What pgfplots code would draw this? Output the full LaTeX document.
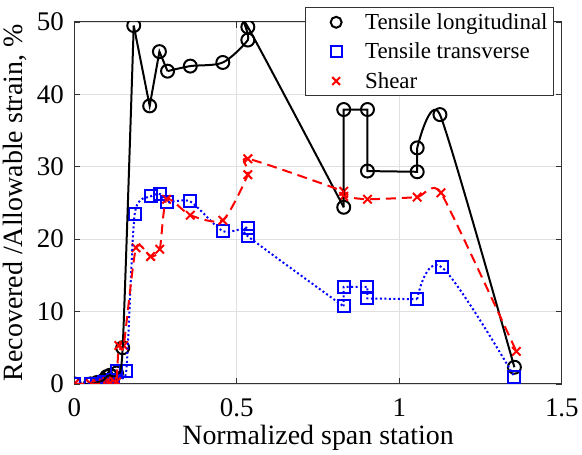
\documentclass[border=0pt]{standalone}
\usepackage{fontspec}
\setmainfont{Liberation Serif}
\usepackage{pgfplots}
\pgfplotsset{compat=1.18}

\begin{document}
\begin{tikzpicture}
\begin{axis}[
  name=ax,
  scale only axis, width=489pt, height=363pt,
  xmin=0, xmax=1.5, ymin=0, ymax=50,
  xtick={0,0.5,1,1.5}, ytick={0,10,20,30,40,50},
  xticklabel={\rmfamily\pgfmathprintnumber[assume math mode=true]{\tick}},
  yticklabel={\rmfamily\pgfmathprintnumber[assume math mode=true]{\tick}},
  tick align=inside, major tick length=6pt,
  grid=major, major grid style={black!12, line width=0.8pt},
  axis line style={line width=1pt, black!80},
  tick style={line width=0.8pt, black!80},
  ticklabel style={font=\rmfamily\fontsize{27}{30}\selectfont},
  xticklabel style={yshift=-11pt},
  yticklabel style={xshift=-7pt},
  label style={font=\rmfamily\fontsize{28}{32}\selectfont},
  xlabel={Normalized span station},
  ylabel={Recovered /Allowable strain, \%},
  ylabel style={yshift=3pt},
  xlabel style={yshift=-2pt},
  legend style={at={(rel axis cs:0.984,1.041)}, anchor=north east,
    font=\fontsize{23}{27}\selectfont, draw=black!80, line width=1pt,
    inner xsep=4pt, inner ysep=4pt, row sep=8pt},
  legend image code/.code={
    \path (0pt,0pt) (52pt,0pt);
    \draw[#1, mark size=5.5pt] plot coordinates {(26pt,0pt)};},
  legend cell align=left,
  clip marker paths=true,
]
% markers (legend entries)
\addplot[only marks, mark=o, mark size=6.5pt, line width=2pt, black] coordinates {
(0,0) (0.05,0) (0.07,0.2) (0.09,0.5) (0.10,1.0) (0.11,1.2) (0.12,1.0) (0.13,1.5)
(0.149,5.0) (0.183,49.5) (0.232,38.4) (0.262,45.9) (0.287,43.2) (0.357,43.9)
(0.457,44.4) (0.534,47.5) (0.534,49.3) (0.829,24.4) (0.829,37.9) (0.902,37.9)
(0.902,29.4) (1.055,29.3) (1.055,32.6) (1.125,37.2) (1.354,2.3)};
\addlegendentry{Tensile longitudinal}
\addplot[only marks, mark=square, mark size=6pt, line width=2pt, blue] coordinates {
(0,0) (0.05,0) (0.07,0) (0.09,0.2) (0.10,0.3) (0.12,0.5) (0.13,1.8) (0.16,1.8)
(0.186,23.5) (0.235,25.9) (0.265,26.2) (0.284,25.1) (0.357,25.2) (0.457,21.1)
(0.534,21.6) (0.534,20.4) (0.829,10.7) (0.829,13.4) (0.902,13.4) (0.902,11.8)
(1.055,11.7) (1.131,16.1) (1.354,1.0)};
\addlegendentry{Tensile transverse}
\addplot[only marks, mark=x, mark size=6pt, line width=2pt, red] coordinates {
(0,0) (0.05,0) (0.07,0) (0.09,0.1) (0.10,0.3) (0.11,0.2) (0.12,0.5) (0.13,0.3)
(0.137,5.3) (0.152,5.3) (0.19,18.8) (0.235,17.6) (0.263,18.6) (0.284,25.5)
(0.357,23.3) (0.457,22.6) (0.534,28.9) (0.534,31.1) (0.829,26.6) (0.829,25.9)
(0.902,25.5) (1.055,25.8) (1.128,26.4) (1.36,4.5)};
\addlegendentry{Shear}

% connecting curves
\addplot[forget plot, no marks, smooth, tension=0.4, black, line width=2pt] coordinates {
(0,0) (0.05,0) (0.07,0.2) (0.09,0.5) (0.10,1.0) (0.11,1.2) (0.12,1.0) (0.13,1.5)
(0.149,5.0) (0.183,49.5)};
\addplot[forget plot, no marks, black, line width=2pt] coordinates {
(0.183,49.5) (0.232,38.4) (0.262,45.9) (0.287,43.2)};
\addplot[forget plot, no marks, smooth, tension=0.5, black, line width=2pt] coordinates {
(0.287,43.2) (0.357,43.9) (0.457,44.4) (0.534,47.5) (0.534,49.3) (0.829,24.4)};
\addplot[forget plot, no marks, black, line width=2pt] coordinates {
(0.829,24.4) (0.829,37.9) (0.902,37.9) (0.902,29.4) (1.055,29.3) (1.055,32.6)};
\addplot[forget plot, no marks, smooth, tension=0.35, black, line width=2pt] coordinates {
(1.055,32.6) (1.125,37.2) (1.354,2.3)};

\addplot[forget plot, no marks, smooth, tension=0.4, blue, line width=2pt, dash pattern=on 2pt off 2.5pt] coordinates {
(0,0) (0.05,0) (0.07,0) (0.09,0.2) (0.10,0.3) (0.12,0.5) (0.13,1.8) (0.16,1.8)
(0.186,23.5) (0.235,25.9) (0.265,26.2) (0.284,25.1) (0.357,25.2) (0.457,21.1)
(0.534,21.6) (0.534,20.4) (0.829,10.7)};
\addplot[forget plot, no marks, blue, line width=2pt, dash pattern=on 2pt off 2.5pt] coordinates {
(0.829,10.7) (0.829,13.4) (0.902,13.4) (0.902,11.8) (1.055,11.7)};
\addplot[forget plot, no marks, smooth, tension=0.6, blue, line width=2pt, dash pattern=on 2pt off 2.5pt] coordinates {
(1.055,11.7) (1.131,16.1) (1.354,1.0)};

\addplot[forget plot, no marks, smooth, tension=0.4, red, line width=2pt, dash pattern=on 10pt off 6pt] coordinates {
(0,0) (0.05,0) (0.07,0) (0.09,0.1) (0.10,0.3) (0.11,0.2) (0.12,0.5) (0.13,0.3)
(0.137,5.3) (0.152,5.3) (0.19,18.8) (0.235,17.6) (0.263,18.6) (0.284,25.5)
(0.357,23.3) (0.457,22.6) (0.534,28.9) (0.534,31.1) (0.829,26.6)};
\addplot[forget plot, no marks, smooth, tension=0.3, red, line width=2pt, dash pattern=on 10pt off 6pt] coordinates {
(0.829,26.6) (0.829,25.9) (0.902,25.5) (1.055,25.8) (1.128,26.4) (1.36,4.5)};
\end{axis}
\path (ax.north) ++(0,22pt);
\end{tikzpicture}
\end{document}
